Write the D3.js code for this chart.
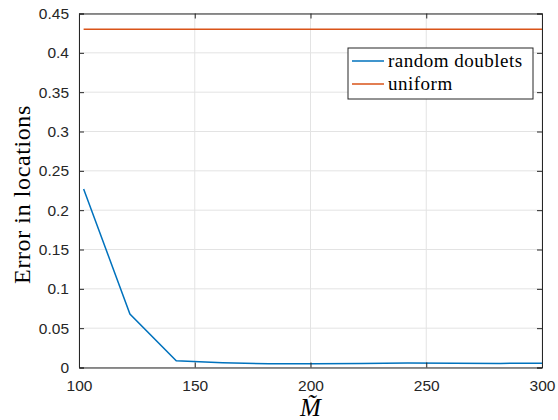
<!DOCTYPE html>
<html>
<head>
<meta charset="utf-8">
<script src="https://cdn.jsdelivr.net/npm/d3@7"></script>
<style>
  body { margin: 0; background: #fff; }
  svg { display: block; }
</style>
</head>
<body>
<div id="chart"></div>
<script>
const width = 558;
const height = 420;

// data
const mValues = [102, 122, 142, 162, 182, 202, 222, 242, 262, 282, 300];
const randomDoublets = [0.227, 0.068, 0.0086, 0.006, 0.0047, 0.0048, 0.005, 0.0056, 0.0055, 0.0052, 0.0055];
const uniformValues = [0.43, 0.43, 0.43, 0.43, 0.43, 0.43, 0.43, 0.43, 0.43, 0.43, 0.43];
const seriesNames = ["random doublets", "uniform"];
const xTicks = [100, 150, 200, 250, 300];
const yTicks = [0, 0.05, 0.1, 0.15, 0.2, 0.25, 0.3, 0.35, 0.4, 0.45];

const colors = ["#0072BD", "#D95319"];
const plotLeft = 79, plotRight = 542, plotTop = 13.5, plotBottom = 367.5;

const svg = d3.select("#chart").append("svg")
    .attr("width", width)
    .attr("height", height)

const x = d3.scaleLinear().domain([100, 300]).range([plotLeft, plotRight])
const y = d3.scaleLinear().domain([0, 0.45]).range([plotBottom, plotTop])

// grid
svg.append("g")
    .selectAll("line")
    .data(xTicks)
    .enter().append("line")
        .attr("x1", d => x(d)).attr("x2", d => x(d))
        .attr("y1", plotTop).attr("y2", plotBottom)
        .attr("stroke", "#e3e3e3")
svg.append("g")
    .selectAll("line")
    .data(yTicks)
    .enter().append("line")
        .attr("x1", plotLeft).attr("x2", plotRight)
        .attr("y1", d => y(d)).attr("y2", d => y(d))
        .attr("stroke", "#e3e3e3")

// lines
const line = d3.line().x((d, i) => x(mValues[i])).y(d => y(d))
const allSeries = [randomDoublets, uniformValues]
svg.append("g")
    .selectAll("path")
    .data(allSeries)
    .enter().append("path")
        .attr("d", d => line(d))
        .attr("fill", "none")
        .attr("stroke", (d, i) => colors[i])
        .attr("stroke-width", 1.5)

// axes (ticks inward, box on)
const axisColor = "#262626"
const tickFont = "'Liberation Sans', Arial, sans-serif"
const serif = "'Liberation Serif', 'DejaVu Serif', serif"

const xAxis = d3.axisBottom(x).tickValues(xTicks).tickSize(-5).tickPadding(12).tickFormat(d3.format("d"))
const yAxis = d3.axisLeft(y).tickValues(yTicks).tickSize(-5).tickPadding(10).tickFormat(d => d === 0 ? "0" : String(d))

const gx = svg.append("g").attr("transform", "translate(0," + plotBottom + ")").call(xAxis)
const gy = svg.append("g").attr("transform", "translate(" + plotLeft + ",0)").call(yAxis)
const gxTop = svg.append("g").attr("transform", "translate(0," + plotTop + ")")
    .call(d3.axisTop(x).tickValues(xTicks).tickSize(-5).tickFormat(""))
const gyRight = svg.append("g").attr("transform", "translate(" + plotRight + ",0)")
    .call(d3.axisRight(y).tickValues(yTicks).tickSize(-5).tickFormat(""))

;[gx, gy, gxTop, gyRight].forEach(g => {
    g.select(".domain").attr("stroke", axisColor).attr("stroke-width", 1)
    g.selectAll(".tick line").attr("stroke", axisColor)
    g.selectAll(".tick text")
        .attr("fill", axisColor)
        .style("font-family", tickFont)
        .style("font-size", "15.5px")
})

// axis labels
svg.append("text")
    .attr("transform", "translate(30," + ((plotTop + plotBottom) / 2 + 4) + ") rotate(-90)")
    .attr("text-anchor", "middle")
    .style("font-family", serif)
    .style("font-size", "24px")
    .style("letter-spacing", "0.6px")
    .attr("fill", "#000")
    .text("Error in locations")

svg.append("text")
    .attr("x", (plotLeft + plotRight) / 2)
    .attr("y", 416)
    .attr("text-anchor", "middle")
    .style("font-family", serif)
    .style("font-style", "italic")
    .style("font-size", "25px")
    .attr("fill", "#000")
    .text("M\u0303")

// legend
const legend = svg.append("g").attr("transform", "translate(348,48)")
legend.append("rect")
    .attr("width", 185).attr("height", 51)
    .attr("fill", "#fff")
    .attr("stroke", axisColor)
    .attr("stroke-width", 1)
const items = legend.selectAll(".item")
    .data(seriesNames)
    .enter().append("g")
        .attr("class", "item")
        .attr("transform", (d, i) => "translate(0," + (13 + i * 23) + ")")
items.append("line")
    .attr("x1", 4).attr("x2", 36)
    .attr("stroke", (d, i) => colors[i])
    .attr("stroke-width", 1.5)
items.append("text")
    .attr("x", 40).attr("y", 5.5)
    .style("font-family", serif)
    .style("font-size", "19px")
    .style("letter-spacing", "0.5px")
    .attr("fill", "#000")
    .text(d => d)
</script>
</body>
</html>
